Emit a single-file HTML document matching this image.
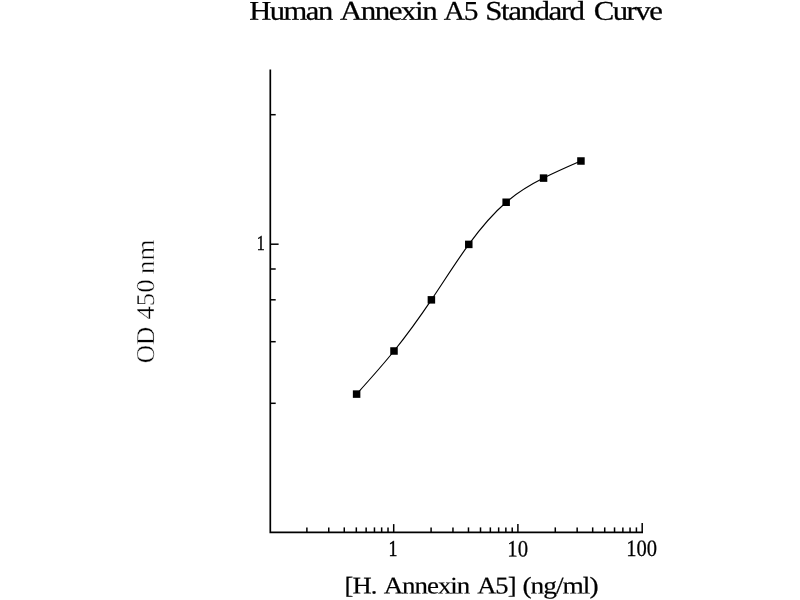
<!DOCTYPE html>
<html lang="en"><head><meta charset="utf-8"><title>Human Annexin A5 Standard Curve</title>
<style>
html,body{margin:0;padding:0;background:#fff;overflow:hidden}
svg{display:block}
text{font-family:"Liberation Serif","Times New Roman",serif}
</style></head>
<body>
<svg width="800" height="600" viewBox="0 0 800 600">
<rect width="800" height="600" fill="#fff"/>
<g stroke="#000" stroke-width="1.7" fill="none">
<polyline points="270.30,69.5 270.30,532.40 643.00,532.40"/>
<g stroke-width="1.5">
<line x1="306.89" y1="532.40" x2="306.89" y2="527.40"/>
<line x1="328.76" y1="532.40" x2="328.76" y2="527.40"/>
<line x1="344.28" y1="532.40" x2="344.28" y2="527.40"/>
<line x1="356.31" y1="532.40" x2="356.31" y2="527.40"/>
<line x1="366.15" y1="532.40" x2="366.15" y2="527.40"/>
<line x1="374.46" y1="532.40" x2="374.46" y2="527.40"/>
<line x1="381.66" y1="532.40" x2="381.66" y2="527.40"/>
<line x1="388.02" y1="532.40" x2="388.02" y2="527.40"/>
<line x1="393.70" y1="532.40" x2="393.70" y2="524.10"/>
<line x1="431.09" y1="532.40" x2="431.09" y2="527.40"/>
<line x1="452.96" y1="532.40" x2="452.96" y2="527.40"/>
<line x1="468.48" y1="532.40" x2="468.48" y2="527.40"/>
<line x1="480.51" y1="532.40" x2="480.51" y2="527.40"/>
<line x1="490.35" y1="532.40" x2="490.35" y2="527.40"/>
<line x1="498.66" y1="532.40" x2="498.66" y2="527.40"/>
<line x1="505.86" y1="532.40" x2="505.86" y2="527.40"/>
<line x1="512.22" y1="532.40" x2="512.22" y2="527.40"/>
<line x1="517.90" y1="532.40" x2="517.90" y2="524.10"/>
<line x1="555.29" y1="532.40" x2="555.29" y2="527.40"/>
<line x1="577.16" y1="532.40" x2="577.16" y2="527.40"/>
<line x1="592.68" y1="532.40" x2="592.68" y2="527.40"/>
<line x1="604.71" y1="532.40" x2="604.71" y2="527.40"/>
<line x1="614.55" y1="532.40" x2="614.55" y2="527.40"/>
<line x1="622.86" y1="532.40" x2="622.86" y2="527.40"/>
<line x1="630.06" y1="532.40" x2="630.06" y2="527.40"/>
<line x1="636.42" y1="532.40" x2="636.42" y2="527.40"/>
<line x1="642.20" y1="532.40" x2="642.20" y2="523.10"/>
<line x1="270.30" y1="114.70" x2="275.70" y2="114.70"/>
<line x1="270.30" y1="244.20" x2="278.60" y2="244.20"/>
<line x1="270.30" y1="269.00" x2="275.70" y2="269.00"/>
<line x1="270.30" y1="299.80" x2="275.70" y2="299.80"/>
<line x1="270.30" y1="341.70" x2="275.70" y2="341.70"/>
<line x1="270.30" y1="403.30" x2="275.70" y2="403.30"/>
</g>
</g>
<path d="M356.61 394.10 C369.07 380.29 381.54 366.48 394.00 351.00 C406.46 335.52 418.93 318.36 431.39 299.85 C443.85 281.34 456.31 261.49 468.78 244.40 C481.24 227.31 493.70 212.98 506.16 202.25 C518.63 191.52 531.09 184.38 543.55 178.10 C556.01 171.82 568.48 166.41 580.94 161.00" fill="none" stroke="#000" stroke-width="1.15"/>
<g fill="#000"><rect x="352.86" y="390.35" width="7.5" height="7.5"/><rect x="390.25" y="347.25" width="7.5" height="7.5"/><rect x="427.64" y="296.10" width="7.5" height="7.5"/><rect x="465.03" y="240.65" width="7.5" height="7.5"/><rect x="502.41" y="198.50" width="7.5" height="7.5"/><rect x="539.80" y="174.35" width="7.5" height="7.5"/><rect x="577.19" y="157.25" width="7.5" height="7.5"/></g>
<g>
<text transform="translate(249.15 19.70) rotate(0.03) scale(1.1279 1.0000)" style="font-size:27.1px;fill:#000;letter-spacing:-1.3px;stroke:#000;stroke-width:0.25px">Human</text>
<text transform="translate(339.91 19.70) rotate(0.03) scale(1.1447 1.0000)" style="font-size:27.1px;fill:#000;letter-spacing:-1.3px;stroke:#000;stroke-width:0.25px">Annexin</text>
<text transform="translate(443.83 19.70) rotate(0.03) scale(1.0852 1.0000)" style="font-size:27.1px;fill:#000;letter-spacing:-1.3px;stroke:#000;stroke-width:0.25px">A5</text>
<text transform="translate(485.30 19.70) rotate(0.03) scale(1.1437 1.0000)" style="font-size:27.1px;fill:#000;letter-spacing:-1.3px;stroke:#000;stroke-width:0.25px">Standard</text>
<text transform="translate(593.67 19.70) rotate(0.03) scale(1.1342 1.0000)" style="font-size:27.1px;fill:#000;letter-spacing:-1.3px;stroke:#000;stroke-width:0.25px">Curve</text>
<text transform="translate(344.56 593.40) rotate(0.03) scale(1.1086 1.0000)" style="font-size:24.0px;fill:#000;letter-spacing:-0.9px;stroke:#000;stroke-width:0.2px">[H.</text>
<text transform="translate(383.72 593.40) rotate(0.03) scale(1.1205 1.0000)" style="font-size:24.0px;fill:#000;letter-spacing:-0.9px;stroke:#000;stroke-width:0.2px">Annexin</text>
<text transform="translate(477.22 593.40) rotate(0.03) scale(1.1052 1.0000)" style="font-size:24.0px;fill:#000;letter-spacing:-0.9px;stroke:#000;stroke-width:0.2px">A5]</text>
<text transform="translate(522.46 593.40) rotate(0.03) scale(1.1429 1.0000)" style="font-size:24.0px;fill:#000;letter-spacing:-0.9px;stroke:#000;stroke-width:0.2px">(ng/ml)</text>
<text transform="translate(388.48 556.24) rotate(0.03) scale(0.8121 1.0333)" style="font-size:22px;fill:#000;stroke:#000;stroke-width:0.45px">1</text>
<text transform="translate(507.35 556.43) rotate(0.03) scale(0.9436 1.0667)" style="font-size:22px;fill:#000;stroke:#000;stroke-width:0.25px">10</text>
<text transform="translate(626.26 556.43) rotate(0.03) scale(0.9344 1.0667)" style="font-size:22px;fill:#000;stroke:#000;stroke-width:0.25px">100</text>
<text transform="translate(256.73 250.16) rotate(0.03) scale(0.7273 0.9733)" style="font-size:22px;fill:#000;stroke:#000;stroke-width:0.45px">1</text>
<text transform="translate(153.90 363.22) rotate(-89.97) scale(0.9784 1)" style="font-size:25.8px;fill:#000;stroke:#fff;stroke-width:0.4px">OD</text>
<text transform="translate(153.90 319.48) rotate(-89.97) scale(1.0340 1)" style="font-size:25.8px;fill:#000;stroke:#fff;stroke-width:0.4px">450</text>
<text transform="translate(153.90 274.08) rotate(-89.97) scale(1.0444 1)" style="font-size:25.8px;fill:#000;stroke:#fff;stroke-width:0.4px">nm</text>
</g>
</svg>
</body></html>
